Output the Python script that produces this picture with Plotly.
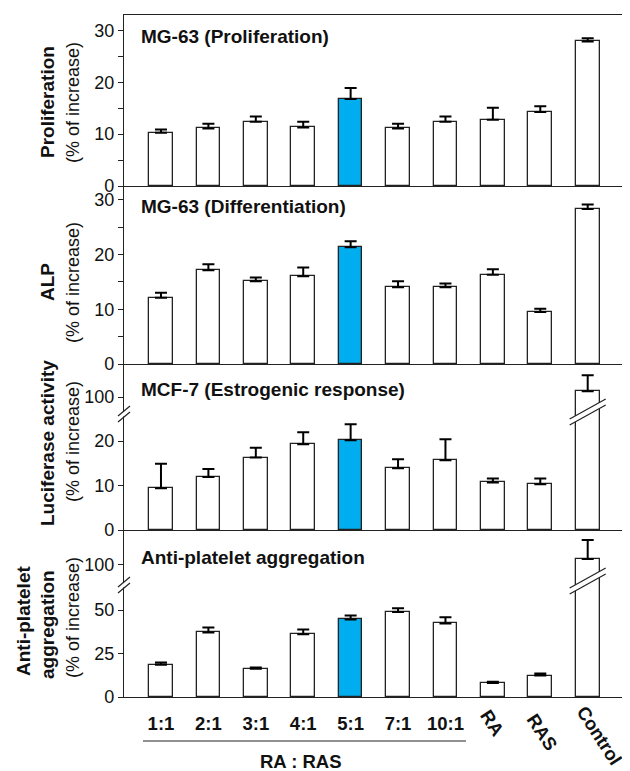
import plotly.graph_objects as go

categories = ["1:1", "2:1", "3:1", "4:1", "5:1", "7:1", "10:1", "RA", "RAS", "Control"]
prolif = [10.3, 11.1, 12.4, 11.3, 16.8, 11.1, 12.4, 12.8, 14.3, 27.9]
prolif_err = [0.6, 0.9, 1.0, 1.1, 2.1, 0.9, 1.0, 2.3, 1.1, 0.6]
alp = [12.1, 17.1, 15.1, 16.0, 21.3, 14.0, 14.0, 16.3, 9.5, 28.3]
alp_err = [0.9, 1.1, 0.7, 1.6, 1.1, 1.1, 0.7, 1.0, 0.6, 0.8]
luc = [9.4, 11.9, 16.3, 19.3, 20.2, 13.9, 15.7, 10.7, 10.3, 101.3]
luc_err = [5.5, 1.8, 2.2, 2.7, 3.6, 2.0, 4.7, 0.9, 1.3, 3.6]
apa = [18.5, 37.1, 16.3, 36.0, 44.6, 48.8, 42.3, 8.1, 12.3, 103.4]
apa_err = [1.3, 2.9, 0.6, 2.8, 2.3, 2.2, 3.5, 0.6, 1.2, 11.0]

panel_titles = ["MG-63 (Proliferation)", "MG-63 (Differentiation)",
                "MCF-7 (Estrogenic response)", "Anti-platelet aggregation"]
group_label = "RA : RAS"
highlight = "5:1"

FONT = "Arial, Liberation Sans, sans-serif"
LINE = "#222222"
TXT = "#111111"
BLUE = "#00AEEF"

OFF = 8  # page body margin
W, H = 630 - OFF, 771 - OFF
ML, MR, MT, MB = 124 - OFF, 2, 15 - OFF, 74
PH = H - MT - MB
PW = W - ML - MR


def py(p):  # window pixel y -> paper
    return (H - MB - (p - OFF)) / PH


def px(p):  # window pixel x -> paper
    return (p - OFF - ML) / PW


xs = list(range(len(categories)))
colors = [BLUE if c == highlight else "white" for c in categories]

fig = go.Figure()

series = {1: (prolif, prolif_err), 2: (alp, alp_err), 3: (luc, luc_err), 4: (luc, luc_err),
          5: (apa, apa_err), 6: (apa, apa_err)}

for k, (vals, errs) in series.items():
    suffix = "" if k == 1 else str(k)
    fig.add_trace(go.Bar(
        x=xs, y=vals, width=0.5,
        marker=dict(color=colors, line=dict(color=LINE, width=1.3)),
        error_y=dict(type="data", symmetric=False, array=errs, arrayminus=[0] * len(errs),
                     color="black", thickness=2, width=6),
        xaxis="x" + suffix, yaxis="y" + suffix, showlegend=False, hoverinfo="skip"))

domains = {
    1: [py(186), 1.0],
    2: [py(364), py(186)],
    3: [py(414), py(364)],
    4: [py(530), py(414)],
    5: [py(586), py(530)],
    6: [0.0, py(586)],
}
ranges = {1: [0, 33], 2: [0, 32.5], 3: [96.2, 107.4], 4: [0, 26.1], 5: [87.9, 120.1], 6: [0, 63.8]}
tickvals = {1: [0, 5, 10, 15, 20, 25, 30], 2: [0, 5, 10, 15, 20, 25, 30], 3: [100],
            4: [0, 10, 20], 5: [100], 6: [0, 25, 50]}
ticktext = {1: ["0", "", "10", "", "20", "", "30"], 2: ["0", "", "10", "", "20", "", "30"],
            3: ["100"], 4: ["0", "10", "20"], 5: ["100"], 6: ["0", "25", "50"]}
xrange_ = [-0.78, 9.85]
bottom_line = {1: True, 2: True, 3: False, 4: True, 5: False, 6: True}

layout = dict(
    width=W, height=H, margin=dict(l=ML, r=MR, t=MT, b=MB),
    paper_bgcolor="white", plot_bgcolor="white",
    font=dict(family=FONT, color=TXT, size=17),
    bargap=0,
)
for k in range(1, 7):
    suffix = "" if k == 1 else str(k)
    xa = dict(domain=[0, 1], range=xrange_, anchor="y" + suffix, showgrid=False, zeroline=False,
              showline=bottom_line[k], linecolor=LINE, linewidth=1.3, ticks="",
              showticklabels=False)
    if k == 1:
        xa["mirror"] = True
    if k != 1:
        xa["matches"] = "x"
    if k == 6:
        xa.update(showticklabels=True, tickvals=xs[:7], ticktext=["<b>%s</b>" % c for c in categories[:7]],
                  tickfont=dict(size=18.5, family=FONT, color=TXT), ticklabelstandoff=10)
    layout["xaxis" + suffix] = xa
    layout["yaxis" + suffix] = dict(
        domain=domains[k], range=ranges[k], anchor="x" + suffix, showgrid=False, zeroline=False,
        showline=True, mirror=True, linecolor=LINE, linewidth=1.3,
        ticks="outside", ticklen=5, tickwidth=1.2, tickcolor=LINE,
        tickvals=tickvals[k], ticktext=ticktext[k],
        tickfont=dict(size=18, family=FONT, color=TXT))

fig.update_layout(**layout)

ann = []
for t, yc in zip(panel_titles, [37, 207, 390, 557]):
    ann.append(dict(text="<b>%s</b>" % t, xref="paper", yref="paper", x=px(139), y=py(yc),
                    xanchor="left", yanchor="middle", showarrow=False,
                    font=dict(size=19, family=FONT, color=TXT)))

ytitles = [
    ("<b>Proliferation</b>", 47, 102, 19), ("(% of increase)", 73, 103, 18),
    ("<b>ALP</b>", 47, 282, 19), ("(% of increase)", 73, 283, 18),
    ("<b>Luciferase activity</b>", 47, 443, 19), ("(% of increase)", 73, 442, 18),
    ("<b>Anti-platelet</b>", 23, 621, 19), ("<b>aggregation</b>", 47, 625, 19), ("(% of increase)", 73, 618, 18),
]
for t, xc, yc, fs in ytitles:
    ann.append(dict(text=t, xref="paper", yref="paper", x=px(xc), y=py(yc), textangle=-90,
                    xanchor="center", yanchor="middle", showarrow=False,
                    font=dict(size=fs, family=FONT, color=TXT)))

for i, yc, xoff in [(7, 723, 0.0), (8, 732, 0.05), (9, 735, 0.25)]:
    ann.append(dict(text="<b>%s</b>" % categories[i], xref="x6", yref="paper", x=xs[i] + xoff, y=py(yc),
                    textangle=57, xanchor="center", yanchor="middle", showarrow=False,
                    font=dict(size=18.5, family=FONT, color=TXT)))

ann.append(dict(text="<b>%s</b>" % group_label, xref="paper", yref="paper", x=px(301), y=py(761),
                xanchor="center", yanchor="middle", showarrow=False,
                font=dict(size=18.5, family=FONT, color=TXT)))
fig.update_layout(annotations=ann)

shapes = []
shapes.append(dict(type="line", xref="paper", yref="paper", x0=px(143), x1=px(466), y0=py(741), y1=py(741),
                   line=dict(color=LINE, width=1.2)))


def axis_break(yc):
    d = []
    d.append(dict(type="rect", xref="paper", yref="paper", x0=px(121), x1=px(127),
                  y0=py(yc + 2.5), y1=py(yc - 2.5), fillcolor="white", line=dict(width=0)))
    for off in (-3, 3):
        d.append(dict(type="line", xref="paper", yref="paper", x0=px(118), x1=px(130),
                      y0=py(yc + off + 5), y1=py(yc + off - 5), line=dict(color=LINE, width=1.2)))
    return d


def bar_break(yc, xi):
    d = []
    x0, x1 = xi - 0.38, xi + 0.38
    a0, a1 = yc + 10, yc - 10
    d.append(dict(type="path", xref="x", yref="paper",
                  path="M %f,%f L %f,%f L %f,%f L %f,%f Z" % (x0, py(a0 - 3), x1, py(a1 - 3), x1, py(a1 + 3), x0, py(a0 + 3)),
                  fillcolor="white", line=dict(width=0)))
    for off in (-3, 3):
        d.append(dict(type="line", xref="x", yref="paper", x0=x0, x1=x1,
                      y0=py(a0 + off), y1=py(a1 + off), line=dict(color=LINE, width=1.2)))
    return d


ctrl = categories.index("Control")
shapes += axis_break(414) + axis_break(585)
shapes += bar_break(412, xs[ctrl]) + bar_break(581, xs[ctrl])
fig.update_layout(shapes=shapes)

fig.write_html("out.html")
